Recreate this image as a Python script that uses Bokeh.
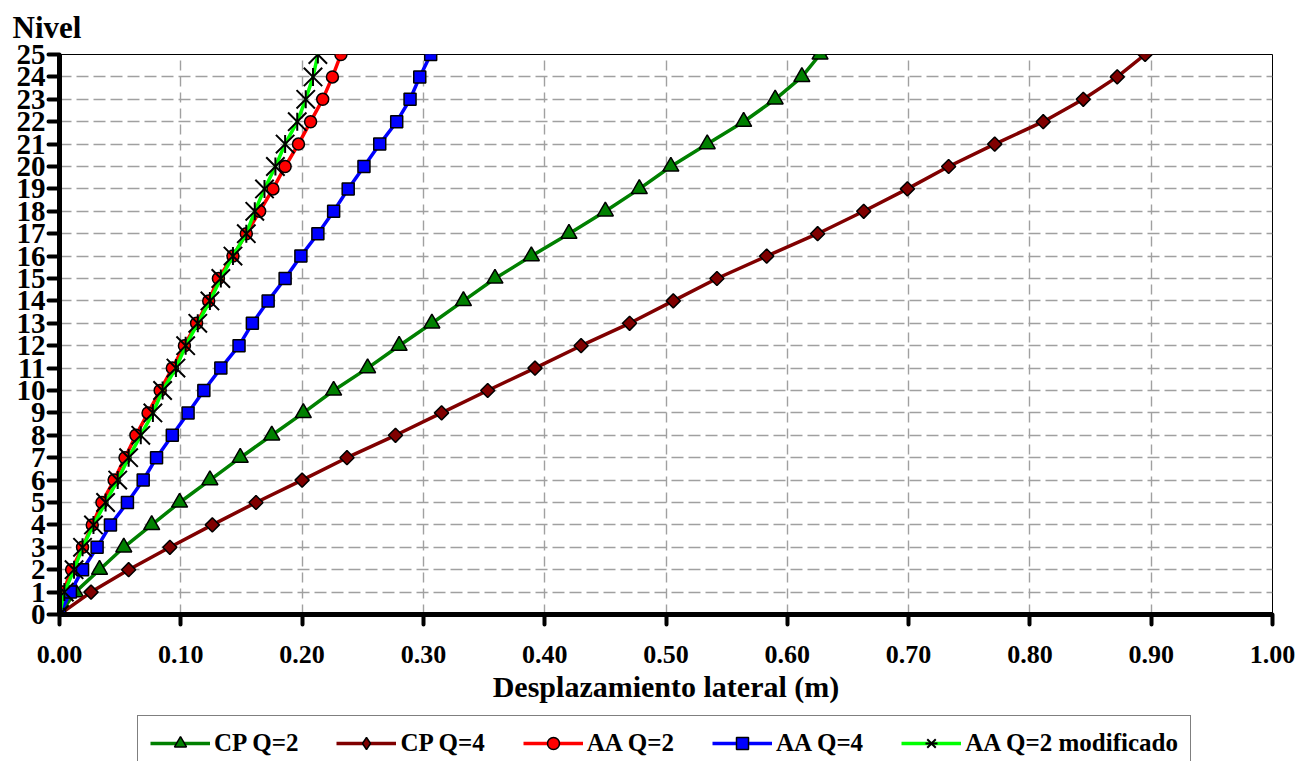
import math
from bokeh.plotting import figure
from bokeh.layouts import column
from bokeh.models import (Range1d, FixedTicker, NumeralTickFormatter, Legend, LegendItem, Title)
from bokeh.embed import file_html
from bokeh.resources import INLINE

# ---- data ----
niveles = list(range(26))
cp_q2 = [0, 0.013, 0.033, 0.053, 0.076, 0.099, 0.124, 0.149, 0.175, 0.201, 0.226, 0.254, 0.280,
         0.307, 0.333, 0.359, 0.389, 0.420, 0.450, 0.478, 0.504, 0.534, 0.564, 0.590, 0.612, 0.627]
cp_q4 = [0, 0.026, 0.057, 0.091, 0.126, 0.162, 0.200, 0.237, 0.277, 0.315, 0.353, 0.392, 0.430,
         0.470, 0.506, 0.542, 0.583, 0.625, 0.663, 0.699, 0.733, 0.771, 0.811, 0.844, 0.872, 0.895]
aa_q2 = [0, 0.003, 0.010, 0.019, 0.027, 0.035, 0.045, 0.054, 0.063, 0.073, 0.083, 0.093, 0.103,
         0.113, 0.123, 0.131, 0.143, 0.154, 0.165, 0.176, 0.186, 0.197, 0.207, 0.217, 0.225, 0.232]
aa_q4 = [0, 0.009, 0.019, 0.031, 0.042, 0.056, 0.069, 0.080, 0.093, 0.106, 0.119, 0.133, 0.148,
         0.159, 0.172, 0.186, 0.199, 0.213, 0.226, 0.238, 0.251, 0.264, 0.278, 0.289, 0.297, 0.306]
aa_q2_mod = [0, 0.004, 0.012, 0.019, 0.028, 0.038, 0.048, 0.057, 0.067, 0.077, 0.085, 0.096, 0.104,
             0.114, 0.124, 0.133, 0.143, 0.154, 0.161, 0.169, 0.178, 0.186, 0.196, 0.203, 0.209, 0.213]

series_names = ["CP Q=2", "CP Q=4", "AA Q=2", "AA Q=4", "AA Q=2 modificado"]
x_ticks = [round(i * 0.1, 1) for i in range(11)]
y_ticks = list(range(26))
x_title = "Desplazamiento lateral (m)"
y_title = "Nivel"

FONT = "Liberation Serif"
W = 1302

p = figure(width=W, height=714, output_backend="svg", toolbar_location=None,
           x_range=Range1d(0, 1.0), y_range=Range1d(0, 25),
           min_border_left=59, min_border_right=30, min_border_top=54, min_border_bottom=100)
p.background_fill_color = "white"
p.border_fill_color = "white"
p.outline_line_color = "black"
p.outline_line_width = 1

ttl = Title(text=y_title, align="left", offset=-47, standoff=16, vertical_align="top",
            text_font=FONT, text_font_style="bold", text_font_size="31px", text_color="black")
p.add_layout(ttl, "above")

# axes
for ax in (p.xaxis[0], p.yaxis[0]):
    ax.axis_line_width = 5
    ax.axis_line_color = "black"
    ax.major_tick_line_width = 4
    ax.major_tick_line_color = "black"
    ax.major_tick_line_cap = "round"
    ax.major_tick_in = 0
    ax.minor_tick_line_color = None
    ax.major_label_text_font = FONT
    ax.major_label_text_font_style = "bold"
    ax.major_label_text_color = "black"

p.xaxis.ticker = FixedTicker(ticks=x_ticks)
p.xaxis.formatter = NumeralTickFormatter(format="0.00")
p.xaxis.major_tick_out = 10
p.xaxis.major_label_standoff = 21
p.xaxis.major_label_text_font_size = "26px"
p.xaxis.axis_label = x_title
p.xaxis.axis_label_text_font = FONT
p.xaxis.axis_label_text_font_style = "bold"
p.xaxis.axis_label_text_font_size = "30px"
p.xaxis.axis_label_text_color = "black"
p.xaxis.axis_label_standoff = 4

p.yaxis.ticker = FixedTicker(ticks=y_ticks)
p.yaxis.major_tick_out = 11
p.yaxis.major_label_standoff = 3
p.yaxis.major_label_text_font_size = "29px"

# grids
p.xgrid.ticker = FixedTicker(ticks=x_ticks)
p.ygrid.ticker = FixedTicker(ticks=y_ticks)
p.xgrid.grid_line_color = "#a0a0a0"
p.ygrid.grid_line_color = "#a0a0a0"
p.xgrid.grid_line_width = 1.4
p.ygrid.grid_line_width = 1.4
p.xgrid.grid_line_dash = "10 6"
p.ygrid.grid_line_dash = "12 5"

# series styles: (values, line colour, plot markers, legend markers)
specs = [
    (cp_q2, "#008000", [("triangle", 16, 0, "#008000")], [("triangle", 16, 0, "#008000")]),
    (cp_q4, "#800000", [("square", 10, math.pi / 4, "#800000")], [("diamond", 16, 0, "#800000")]),
    (aa_q2, "#ff0000", [("circle", 12, 0, "#ff0000")], [("circle", 12, 0, "#ff0000")]),
    (aa_q4, "#0000ff", [("square", 12, 0, "#0000ff")], [("square", 12, 0, "#0000ff")]),
    (aa_q2_mod, "#00ff00", [("x", 26, 0, "black"), ("dash", 18, math.pi / 2, "black")],
     [("x", 26, 0, "black"), ("dash", 18, math.pi / 2, "black")]),
]

# legend strip (separate figure, ranges chosen away from the data so only the legend shows)
pl = figure(width=W, height=47, output_backend="svg", toolbar_location=None,
            x_range=Range1d(10, 11), y_range=Range1d(100, 101),
            x_axis_location=None, y_axis_location=None,
            min_border_left=0, min_border_right=0, min_border_top=0, min_border_bottom=0)
pl.xgrid.visible = False
pl.ygrid.visible = False
pl.outline_line_color = None
pl.background_fill_color = "white"
pl.border_fill_color = "white"

items = []
for name, (xs, lc, mks, lmks) in zip(series_names, specs):
    p.line(xs, niveles, line_color=lc, line_width=3.5)
    for mk, sz, ang, fc in mks:
        lw = 2 if mk in ("x", "dash") else 1.5
        p.scatter(xs, niveles, marker=mk, size=sz, angle=ang, fill_color=fc,
                  line_color="black", line_width=lw)
    rs = [pl.line(xs, niveles, line_color=lc, line_width=3.5)]
    for mk, sz, ang, fc in lmks:
        lw = 2 if mk in ("x", "dash") else 1.5
        rs.append(pl.scatter(xs, niveles, marker=mk, size=sz, angle=ang, fill_color=fc,
                             line_color="black", line_width=lw))
    items.append(LegendItem(label=name, renderers=rs))

legend = Legend(items=items, orientation="horizontal", location=(78, -10),
                label_text_font=FONT, label_text_font_style="bold", label_text_font_size="25px",
                label_text_color="black", glyph_width=60, glyph_height=30, label_standoff=4,
                spacing=38, padding=12, margin=0, border_line_color="black", border_line_width=1,
                background_fill_color="white", background_fill_alpha=1.0)
pl.add_layout(legend, "center")

layout = column(p, pl, spacing=0)
open("out.html", "w").write(file_html(layout, INLINE))
